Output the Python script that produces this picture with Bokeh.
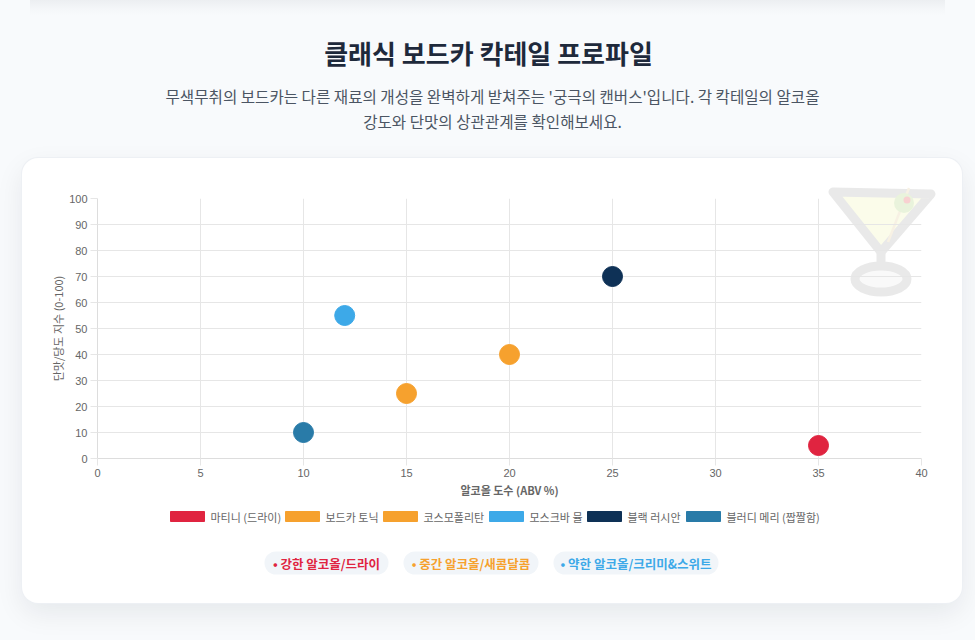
from bokeh.plotting import figure
from bokeh.layouts import column
from bokeh.models import Range1d, FixedTicker
from bokeh.core.properties import value
from bokeh.embed import file_html
from bokeh.resources import INLINE

# ---------------- data ----------------
cocktails = ["마티니 (드라이)", "보드카 토닉", "코스모폴리탄", "모스크바 뮬", "블랙 러시안", "블러디 메리 (짭짤함)"]
abv = [35, 15, 20, 12, 25, 10]
sweetness = [5, 25, 40, 55, 70, 10]
colors = ["#e02440", "#f6a12e", "#f6a12e", "#3da9e8", "#0e3156", "#297ba8"]
x_ticks = [0, 5, 10, 15, 20, 25, 30, 35, 40]
y_ticks = [0, 10, 20, 30, 40, 50, 60, 70, 80, 90, 100]
badge_texts = ["• 강한 알코올/드라이", "• 중간 알코올/새콤달콤", "• 약한 알코올/크리미&스위트"]
badge_colors = ["#e02440", "#f6a12e", "#3da9e8"]
title_text = "클래식 보드카 칵테일 프로파일"
subtitle_lines = ["무색무취의 보드카는 다른 재료의 개성을 완벽하게 받쳐주는 '궁극의 캔버스'입니다. 각 칵테일의 알코올",
                  "강도와 단맛의 상관관계를 확인해보세요."]
x_title = "알코올 도수 (ABV %)"
y_title = "단맛/당도 지수 (0-100)"

KR = "Noto Sans CJK KR"
PAGE_BG = "#f8fafc"
W, H = 975, 640
TOP_H = 158
CARD_L, CARD_R, CARD_B = 22, 962, 603
CARD_W = CARD_R - CARD_L
CHART_H = 342
LEG_H = (CARD_B - TOP_H) - CHART_H
FRAME_L, FRAME_R = 97, 921

# ---------------- header (title + subtitle) ----------------
top = figure(width=W, height=TOP_H, x_range=Range1d(0, W), y_range=Range1d(TOP_H, 0),
             output_backend="svg", toolbar_location=None, min_border=0,
             border_fill_alpha=0, background_fill_alpha=0, outline_line_color=None)
top.axis.visible = False
top.grid.visible = False
top.text(x=[488], y=[52], text=[title_text], text_font=value(KR), text_font_size="26px",
         text_font_style="bold", text_color="#1e293b", text_align="center", text_baseline="middle")
top.text(x=[492, 492], y=[95, 120], text=subtitle_lines, text_font=value(KR), text_font_size="15.6px",
         text_color="#4b5563", text_align="center", text_baseline="middle")

# ---------------- chart ----------------
p = figure(width=CARD_W, height=CHART_H, x_range=Range1d(0, 40), y_range=Range1d(0, 100),
           output_backend="svg", toolbar_location=None,
           min_border_left=FRAME_L - CARD_L, min_border_right=CARD_R - FRAME_R,
           min_border_top=198 - TOP_H, min_border_bottom=(TOP_H + CHART_H) - 458,
           border_fill_alpha=0, background_fill_alpha=0, outline_line_color=None)
p.xaxis.ticker = FixedTicker(ticks=x_ticks)
p.yaxis.ticker = FixedTicker(ticks=y_ticks)
for ax in (p.xaxis[0], p.yaxis[0]):
    ax.major_label_text_font = "Liberation Sans"
    ax.major_label_text_font_size = "11px"
    ax.major_label_text_color = "#666666"
    ax.axis_line_color = "#dddddd"
    ax.major_tick_line_color = "#e6e6e6"
    ax.major_tick_out = 7
    ax.major_tick_in = 0
    ax.minor_tick_line_color = None
    ax.major_label_standoff = 3
    ax.axis_label_text_font = KR
    ax.axis_label_text_font_size = "11px"
    ax.axis_label_text_color = "#666666"
p.xaxis.axis_label = x_title
p.xaxis.axis_label_text_font_style = "bold"
p.xaxis.axis_label_standoff = 2
p.yaxis.axis_label = y_title
p.yaxis.axis_label_text_font_style = "normal"
p.yaxis.axis_label_standoff = 0
p.grid.grid_line_color = "#e6e6e6"
p.grid.grid_line_width = 1
p.scatter(abv, sweetness, size=20, fill_color=colors, line_color=colors, line_width=1)

# ---------------- legend + badges (pixel coordinate space of the page) ----------------
leg = figure(width=CARD_W, height=LEG_H, x_range=Range1d(FRAME_L, FRAME_R),
             y_range=Range1d(CARD_B, CARD_B - LEG_H),
             output_backend="svg", toolbar_location=None,
             min_border_left=FRAME_L - CARD_L, min_border_right=CARD_R - FRAME_R,
             min_border_top=0, min_border_bottom=0,
             border_fill_alpha=0, background_fill_alpha=0, outline_line_color=None)
leg.axis.visible = False
leg.grid.visible = False
legend_x = [170, 285, 383, 489, 587, 686]
leg.rect(x=[lx + 17 for lx in legend_x], y=[516] * len(legend_x), width=34, height=10,
         fill_color=colors, line_color=colors)
leg.text(x=[lx + 40 for lx in legend_x], y=[516] * len(legend_x), text=cocktails,
         text_font=value(KR), text_font_size="11px", text_color="#666666",
         text_align="left", text_baseline="middle")
badge_left = [264, 403, 553]
badge_right = [388, 538, 718]
leg.segment(x0=[l + 11.5 for l in badge_left], y0=[562.5] * 3, x1=[r - 11.5 for r in badge_right],
            y1=[562.5] * 3, line_width=23, line_cap="round", line_color="#f1f5f9")
leg.text(x=[(l + r) / 2 for l, r in zip(badge_left, badge_right)], y=[563] * 3, text=badge_texts,
         text_font=value(KR), text_font_size="12.5px", text_font_style="bold", text_color=badge_colors,
         text_align="center", text_baseline="middle")

# ---------------- decorative martini glass (CSS background of the card) ----------------
svg = ("<svg xmlns='http://www.w3.org/2000/svg' width='112' height='130' viewBox='0 0 112 130'>"
       "<g opacity='0.45'>"
       "<polygon points='8,20 106,22 56,80' fill='#f7fad2' stroke='#cfcfcf' stroke-width='9' stroke-linejoin='round'/>"
       "<line x1='84' y1='16' x2='63' y2='70' stroke='#efe2c4' stroke-width='2.5'/>"
       "<circle cx='79' cy='31' r='10' fill='#cfe6b2'/>"
       "<circle cx='82' cy='28' r='3.5' fill='#f09a9a'/>"
       "<line x1='56' y1='78' x2='56' y2='95' stroke='#cfcfcf' stroke-width='9'/>"
       "<ellipse cx='56' cy='107' rx='26' ry='13' fill='#f3f3f3' stroke='#cfcfcf' stroke-width='9'/>"
       "</g></svg>")
svg_uri = "url(\"data:image/svg+xml;utf8," + svg.replace("#", "%23").replace("<", "%3C").replace(">", "%3E") + "\")"

card = column(p, leg, width=CARD_W, height=CARD_B - TOP_H, margin=(0, 0, 0, CARD_L),
              styles={"background-color": "#ffffff", "border-radius": "16px", "overflow": "hidden",
                      "box-shadow": "0 0 0 1px #edf0f4, 0 10px 28px rgba(15, 23, 42, 0.08)",
                      "background-image": svg_uri, "background-repeat": "no-repeat",
                      "background-position": "803px 14px", "background-size": "112px 130px"})

# faint shadow of a previous card at the very top of the page
top_shadow = ("linear-gradient(to bottom, rgba(15,23,42,0.05), rgba(15,23,42,0.015) 9px, rgba(15,23,42,0) 16px)")
outer = column(top, card, width=W, height=H, margin=0,
               styles={"background-color": PAGE_BG, "background-image": top_shadow,
                       "background-repeat": "no-repeat", "background-position": "30px 0px",
                       "background-size": "915px 16px"})

open("out.html", "w").write(file_html(outer, INLINE))
